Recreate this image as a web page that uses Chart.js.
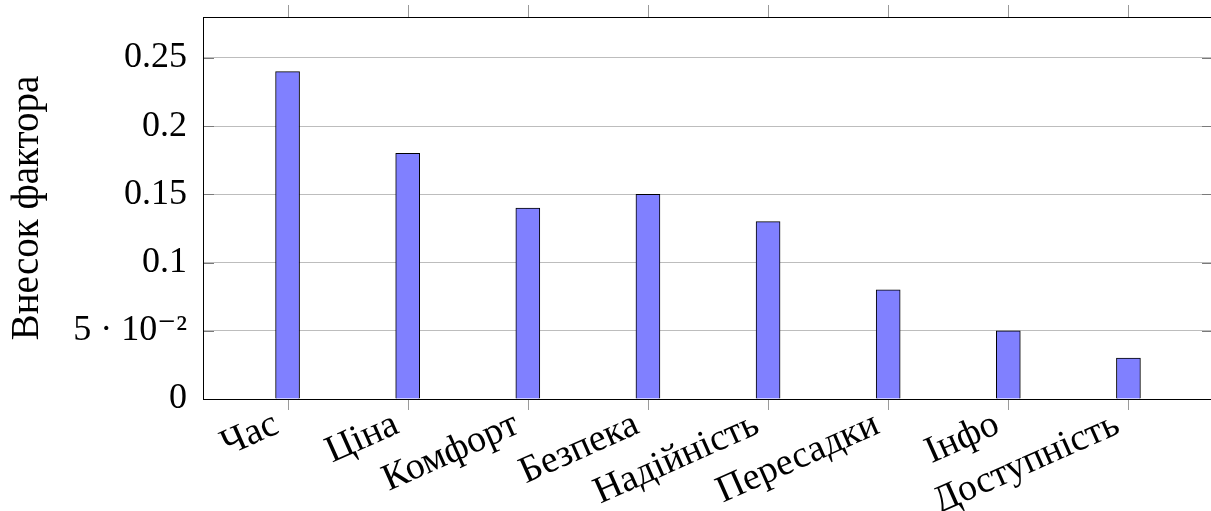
<!DOCTYPE html>
<html>
<head>
<meta charset="utf-8">
<script src="https://cdn.jsdelivr.net/npm/chart.js@4.4.1/dist/chart.umd.min.js"></script>
<style>
  html, body { margin: 0; padding: 0; background: #fff; overflow: hidden; }
  #wrap { width: 1211px; height: 511px; overflow: hidden; }
  canvas { display: block; }
</style>
</head>
<body>
<div id="wrap"><canvas id="c" width="1216" height="511"></canvas></div>
<script>
// Factor weights
const categories = ['Час', 'Ціна', 'Комфорт', 'Безпека', 'Надійність', 'Пересадки', 'Інфо', 'Доступність'];
const weights = [0.24, 0.18, 0.14, 0.15, 0.13, 0.08, 0.05, 0.03];
const yTickValues = [0, 0.05, 0.1, 0.15, 0.2, 0.25];
const yTickLabels = ['0', '5 · 10⁻²', '0.1', '0.15', '0.2', '0.25'];
const yTitle = 'Внесок фактора';

const FONT = '"Liberation Serif", "DejaVu Serif", serif';
const LABEL_ANGLE = 24; // degrees

// Frame, tick marks and rotated category labels, positioned via the scales
const frameTicks = {
  id: 'frameTicks',
  afterDatasetsDraw(chart) {
    const { ctx, chartArea: a, scales: { x, y } } = chart;
    ctx.save();
    ctx.lineWidth = 1;
    // inward y ticks on both sides
    ctx.strokeStyle = '#7a7a7a';
    yTickValues.forEach(v => {
      const py = Math.round(y.getPixelForValue(v)) + 0.5;
      ctx.beginPath();
      ctx.moveTo(a.left, py); ctx.lineTo(a.left + 11, py);
      ctx.moveTo(a.right, py); ctx.lineTo(a.right - 11, py);
      ctx.stroke();
    });
    // outward x ticks on top and bottom edges
    ctx.strokeStyle = '#9a9a9a';
    categories.forEach((_, i) => {
      const px = Math.round(x.getPixelForValue(i)) + 0.5;
      ctx.beginPath();
      ctx.moveTo(px, a.top); ctx.lineTo(px, a.top - 12);
      ctx.moveTo(px, a.bottom); ctx.lineTo(px, a.bottom + 11);
      ctx.stroke();
    });
    // frame
    ctx.strokeStyle = '#000';
    ctx.strokeRect(Math.round(a.left) + 0.5, Math.round(a.top) + 0.5,
                   Math.round(a.right - a.left), Math.round(a.bottom - a.top));
    // category labels, rotated, anchored at their east point below each tick
    ctx.fillStyle = '#000';
    ctx.font = '38px ' + FONT;
    ctx.textAlign = 'right';
    ctx.textBaseline = 'middle';
    categories.forEach((name, i) => {
      const px = x.getPixelForValue(i) - 11;
      const py = a.bottom + 24;
      ctx.save();
      ctx.translate(px, py);
      ctx.rotate(-LABEL_ANGLE * Math.PI / 180);
      ctx.fillText(name, 0, 0);
      ctx.restore();
    });
    ctx.restore();
  }
};

new Chart(document.getElementById('c'), {
  type: 'bar',
  data: {
    datasets: [{
      data: weights.map((v, i) => ({ x: i, y: v })),
      backgroundColor: '#8080ff',
      borderColor: '#000',
      borderWidth: 1,
      barThickness: 24
    }]
  },
  options: {
    responsive: false,
    animation: false,
    events: [],
    layout: { padding: { top: 17, right: 3, left: 0, bottom: 0 } },
    plugins: { legend: { display: false }, tooltip: { enabled: false } },
    scales: {
      x: {
        type: 'linear',
        offset: false,
        min: -0.704,
        max: 7.704,
        afterBuildTicks(s) { s.ticks = categories.map((_, i) => ({ value: i })); },
        afterFit(s) { s.height = 112; s.paddingLeft = 0; s.paddingRight = 0; },
        grid: { display: false, offset: false },
        border: { display: false },
        ticks: { display: false }
      },
      y: {
        min: 0,
        max: 0.28,
        afterBuildTicks(s) { s.ticks = yTickValues.map(v => ({ value: v })); },
        afterFit(s) { s.width = 203; s.paddingTop = 0; s.paddingBottom = 0; },
        grid: { color: '#bdbdbd', drawTicks: false },
        border: { display: false },
        ticks: {
          padding: 16,
          color: '#000',
          font: { family: FONT, size: 36 },
          callback: (v) => yTickLabels[yTickValues.indexOf(v)]
        },
        title: {
          display: true,
          text: yTitle,
          color: '#000',
          font: { family: FONT, size: 39 },
          padding: { top: 4, bottom: 0 }
        }
      }
    }
  },
  plugins: [frameTicks]
});
</script>
</body>
</html>
